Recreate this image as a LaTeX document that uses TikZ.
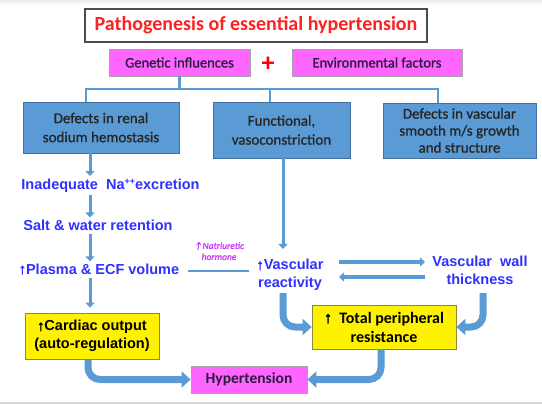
\documentclass[tikz,border=0pt]{standalone}
\usepackage{fontspec}
\setmainfont{Carlito}
\newfontfamily\arialb{Liberation Sans}
\newfontfamily\arrowf{Liberation Sans}[FakeBold=2.5]
\newfontfamily\carl{Carlito}
\newfontfamily\carlfb{Carlito}[FakeBold=1]
\newcommand{\uparrowmark}{{\arrowf ↑}}
\usetikzlibrary{arrows.meta,calc}
\definecolor{boxblue}{HTML}{5B9BD5}
\definecolor{boxblueb}{HTML}{41719C}
\definecolor{mag}{HTML}{FF66FF}
\definecolor{txtblue}{HTML}{3030FF}
\definecolor{natr}{HTML}{CC33FF}
\definecolor{titlered}{HTML}{FF2020}
\definecolor{darktxt}{HTML}{2A1A40}
\tikzset{
  magbox/.style={draw=gray!70, line width=0.8pt, fill=mag, inner sep=0pt, text=darktxt, font=\carlfb\fontsize{14.5}{16}\selectfont},
  bluebox/.style={draw=boxblueb, line width=0.8pt, fill=boxblue, inner sep=0pt, align=center, text=black!85, font=\carlfb\fontsize{15}{19}\selectfont},
  yelbox/.style={draw=olive!60!gray, line width=0.8pt, fill=yellow, inner sep=0pt, align=center, text=black},
  bluetxt/.style={text=txtblue, font=\arialb\bfseries\fontsize{14.5}{18}\selectfont, align=center, inner sep=1pt},
  thinarr/.style={draw=boxblue, line width=3pt, -{Triangle[width=9pt,length=5pt]}},
  thickarr/.style={draw=boxblue, line width=7pt, rounded corners=12pt, -{Triangle[width=16pt,length=9pt]}},
  link/.style={draw=boxblue, line width=2.5pt},
}
\begin{document}
\begin{tikzpicture}[x=1pt,y=-1pt]
\useasboundingbox (0,0) rectangle (542,404);
\fill[white] (0,0) rectangle (542,404);
\fill[gray!30] (0,401.5) rectangle (542,404);
\shade[top color=gray!15, bottom color=white] (0,0) rectangle (542,5);
% title
\node[draw=gray!60!black, line width=1.6pt, minimum width=342pt, minimum height=33pt, inner sep=0pt, text=titlered, font=\bfseries\fontsize{20}{22}\selectfont] (title) at (256,25.5) {Pathogenesis of essential hypertension};
% top row
\node[magbox, minimum width=141pt, minimum height=27pt] (gen) at (179.5,62.5) {Genetic influences};
\node[text=red, font=\bfseries\fontsize{26}{26}\selectfont, inner sep=0pt] (plus) at (268,64) {+};
\node[magbox, minimum width=170pt, minimum height=27pt] (env) at (377,62.5) {Environmental factors};
% blue boxes
\node[bluebox, minimum width=156pt, minimum height=51pt] (renal) at (101,127.5) {Defects in renal\\sodium hemostasis};
\node[bluebox, minimum width=137pt, minimum height=56pt] (func) at (281.5,130) {Functional,\\vasoconstriction};
\node[bluebox, minimum width=153pt, minimum height=55pt, font=\carlfb\fontsize{15}{17}\selectfont] (vasc) at (459.5,130.5) {Defects in vascular\\smooth m/s growth\\and structure};
% branching connector
\coordinate (j) at (179.5,89);
\draw[link] (gen.south) -- (j);
\draw[link] ($(renal.north)+(-15,0)$) |- (j) -| ($(vasc.north)+(-21.5,0)$);
\draw[link] (j) -| ($(func.north)+(-11.5,0)$);
% left column
\node[bluetxt] (inad) at (110.5,186) {Inadequate\ \ Na\raisebox{0.35em}{\fontsize{9}{9}\selectfont ++}excretion};
\node[bluetxt] (salt) at (98,225) {Salt \& water retention};
\node[bluetxt] (plasma) at (99,269) {\uparrowmark Plasma \& ECF volume};
\node[yelbox, minimum width=134pt, minimum height=46pt, font=\arialb\bfseries\fontsize{14.5}{18}\selectfont] (card) at (92,336) {\uparrowmark Cardiac output\\(auto-regulation)};
\draw[thinarr] (renal.south -| 90,0) -- ($(inad.north -| 90,0)+(0,-2)$);
\draw[thinarr] ($(inad.south -| 90,0)+(0,1)$) -- ($(salt.north -| 90,0)+(0,-1)$);
\draw[thinarr] ($(salt.south -| 90,0)+(0,2)$) -- ($(plasma.north -| 90,0)+(0,-1)$);
\draw[thinarr] ($(plasma.south -| 90,0)+(0,2)$) -- ($(card.north -| 90,0)+(0,-5)$);
% middle
\node[bluetxt] (react) at (290,275) {\uparrowmark Vascular\\reactivity};
\node[text=natr, font=\carlfb\itshape\fontsize{9.5}{11}\selectfont, align=center, inner sep=0pt] (natlab) at (219,251) {↑Natriuretic\\hormone};
\coordinate (ls) at (188,271);
\coordinate (le) at (249,271);
\draw[link] (ls) -- (le);
\coordinate (fa) at (283,249);
\draw[thinarr] (func.south -| fa) -- (fa);
% right
\node[bluetxt] (thick) at (480,270) {Vascular\ \ wall\\thickness};
\coordinate (d1s) at (339,262); \coordinate (d1e) at (425,262);
\coordinate (d2s) at (425,277); \coordinate (d2e) at (339,277);
\draw[draw=boxblue, line width=3.5pt, -{Triangle[width=9pt,length=5pt]}] (d1s) -- (d1e);
\draw[draw=boxblue, line width=3.5pt, -{Triangle[width=9pt,length=5pt]}] (d2s) -- (d2e);
\node[yelbox, minimum width=144pt, minimum height=44pt, font=\carl\bfseries\fontsize{16}{19}\selectfont] (tpr) at (384,327) {\uparrowmark\ \ Total peripheral\\resistance};
\node[magbox, minimum width=116pt, minimum height=27pt, font=\carl\bfseries\fontsize{15.5}{17}\selectfont] (hyp) at (249,379.5) {Hypertension};
% thick curved arrows
\coordinate (ra) at (283,293);
\coordinate (ta) at (483,293);
\draw[thickarr] (ra) |- (tpr.west);
\draw[thickarr] (ta) |- (tpr.east);
\draw[thickarr] (card.south -| 88,0) |- (hyp.west);
\draw[thickarr] (tpr.south -| 381,0) |- (hyp.east);
\end{tikzpicture}
\end{document}
